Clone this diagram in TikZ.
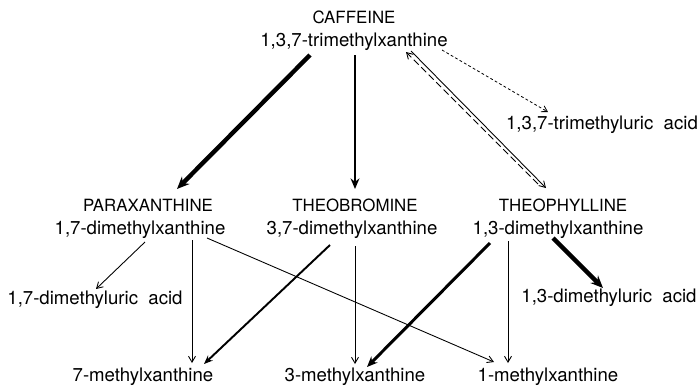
\documentclass[tikz,border=0pt]{standalone}
\usepackage{fontspec}
\setmainfont{TeX Gyre Heros}
\usetikzlibrary{arrows.meta,calc}

\newcommand\drugfont{\fontsize{9.6}{11}\selectfont}
\newcommand\chemfont{\fontsize{10.6}{12}\selectfont}

\tikzset{
  drug/.style={inner sep=0pt,font=\drugfont},
  chem/.style={inner sep=0pt,font=\chemfont},
  weak/.style={line width=0.5pt,-{Straight Barb[length=3.4pt,width=4pt]}},
  medium/.style={line width=1.1pt,-{Stealth[length=5pt,width=4pt]}},
  strong/.style={line width=1.7pt,-{Stealth[length=6pt,width=5pt]}},
  major/.style={line width=2.5pt,-{Stealth[length=7pt,width=6pt]}},
  minor/.style={line width=0.45pt,dash pattern=on 1.6pt off 1.3pt,-{Straight Barb[length=3.2pt,width=3.8pt]}},
  back/.style={line width=0.5pt,dash pattern=on 4pt off 2pt,-{Straight Barb[length=3.4pt,width=4pt]}}
}

\begin{document}
\begin{tikzpicture}[x=0.02cm,y=-0.02cm]
\useasboundingbox (0,0) rectangle (698,386);

\node[drug] (caf) at (354,17) {CAFFEINE};
\node[chem] (tmx) at (354,42) {1,3,7-trimethylxanthine};
\node[chem] (tmu) at (602,125) {1,3,7-trimethyluric\ \ acid};

\node[drug] (px) at (148,205) {PARAXANTHINE};
\node[chem] (pxs) at (140,230) {1,7-dimethylxanthine};
\node[drug] (tb) at (355,205) {THEOBROMINE};
\node[chem] (tbs) at (352,230) {3,7-dimethylxanthine};
\node[drug] (tp) at (563,205) {THEOPHYLLINE};
\node[chem] (tps) at (558,230) {1,3-dimethylxanthine};

\node[chem] (dmu17) at (95,300) {1,7-dimethyluric\ \ acid};
\node[chem] (dmu13) at (609,298) {1,3-dimethyluric\ \ acid};

\node[chem] (mx7) at (143,377) {7-methylxanthine};
\node[chem] (mx3) at (355,377) {3-methylxanthine};
\node[chem] (mx1) at (548,377) {1-methylxanthine};

\draw[major] ($(tmx)+(-44,13)$) -- ($(px)+(29,-16)$);
\draw[strong] ($(tmx)+(1,13)$) -- ($(tb)+(0,-16)$);
\draw[weak] ($(tmx)+(57,9)$) -- ($(tp)+(-17,-17)$);
\draw[back] ($(tp)+(-25,-21)$) -- ($(tmx)+(52,10)$);
\draw[minor] ($(tmx)+(88,8)$) -- ($(tmu)+(-54,-13)$);

\draw[weak] ($(pxs)+(5,12)$) -- ($(dmu17)+(1,-11)$);
\draw[weak] ($(pxs)+(52,10)$) -- ($(mx7)+(49,-14)$);
\draw[weak] ($(pxs)+(67,8)$) -- ($(mx1)+(-54,-15)$);

\draw[medium] ($(tbs)+(-22,15)$) -- ($(mx7)+(61,-13)$);
\draw[weak] ($(tbs)+(3,16)$) -- ($(mx3)+(0,-13)$);

\draw[strong] ($(tps)+(-68,13)$) -- ($(mx3)+(12,-10)$);
\draw[weak] ($(tps)+(-50,11)$) -- ($(mx1)+(-40,-14)$);
\draw[major] ($(tps)+(-5,8)$) -- ($(dmu13)+(-6,-10)$);
\end{tikzpicture}
\end{document}
